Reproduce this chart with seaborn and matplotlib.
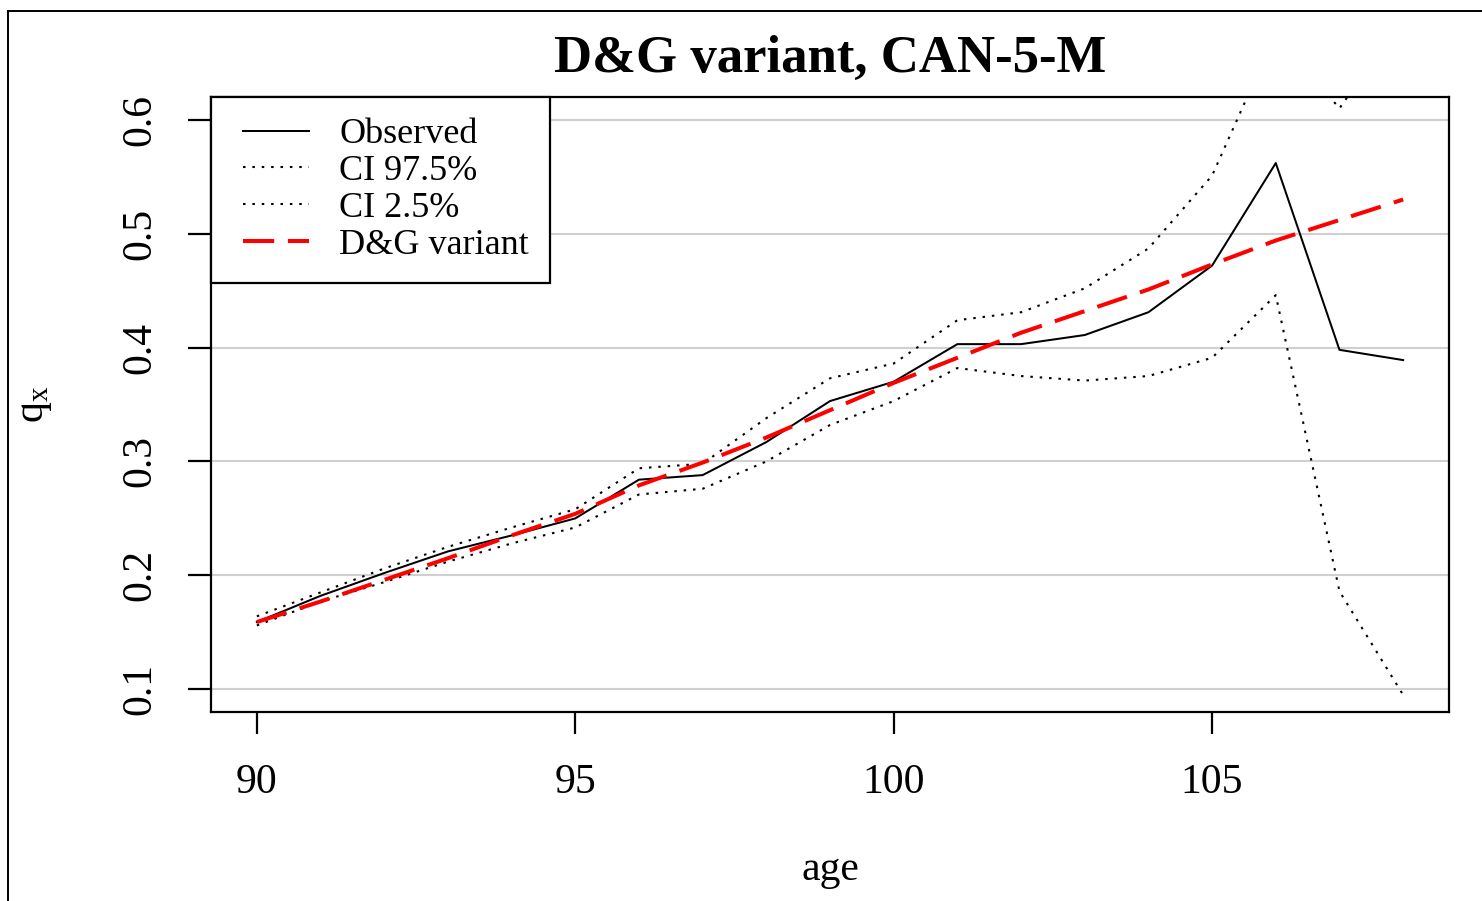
import numpy as np
import pandas as pd
import matplotlib
matplotlib.use("Agg")
import matplotlib.pyplot as plt
from matplotlib.lines import Line2D
from matplotlib.legend_handler import HandlerLine2D
import seaborn as sns

# ---------------- data ----------------
ages = [90, 91, 92, 93, 94, 95, 96, 97, 98, 99, 100, 101, 102, 103, 104, 105, 106, 107, 108]
observed = [0.159, 0.182, 0.202, 0.221, 0.235, 0.250, 0.284, 0.288, 0.317, 0.353, 0.370,
            0.403, 0.403, 0.411, 0.431, 0.472, 0.562, 0.398, 0.389]
ci_upper = [0.164, 0.185, 0.206, 0.225, 0.242, 0.258, 0.294, 0.298, 0.338, 0.373, 0.386,
            0.424, 0.431, 0.452, 0.487, 0.551, 0.676, 0.610, 0.690]
ci_lower = [0.156, 0.177, 0.194, 0.212, 0.228, 0.242, 0.271, 0.276, 0.300, 0.332, 0.353,
            0.382, 0.375, 0.371, 0.375, 0.391, 0.446, 0.186, 0.095]
dg_variant = [0.159, 0.177, 0.196, 0.215, 0.235, 0.254, 0.279, 0.299, 0.321, 0.345, 0.369,
              0.391, 0.413, 0.432, 0.451, 0.473, 0.494, 0.512, 0.530]
series_labels = ["Observed", "CI 97.5%", "CI 2.5%", "D&G variant"]
x_ticks = [90, 95, 100, 105]
y_ticks = [0.1, 0.2, 0.3, 0.4, 0.5, 0.6]
title = "D&G variant, CAN-5-M"

df = pd.DataFrame({"age": ages, "obs": observed, "up": ci_upper,
                   "lo": ci_lower, "dg": dg_variant})

# ---------------- style ----------------
plt.rcParams["font.family"] = ["Liberation Serif", "DejaVu Serif"]
plt.rcParams["mathtext.fontset"] = "stix"

W, H = 1482, 901
fig = plt.figure(figsize=(W / 100, H / 100), dpi=100)
L, R, T, B = 211, 1449, 97, 712
ax = fig.add_axes([L / W, (H - B) / H, (R - L) / W, (B - T) / H])

sns.lineplot(data=df, x="age", y="obs", ax=ax, color="black", lw=1.45,
             label=series_labels[0], errorbar=None)
sns.lineplot(data=df, x="age", y="up", ax=ax, color="black", lw=1.5,
             linestyle=(0, (1.2, 3.3)), label=series_labels[1], errorbar=None)
sns.lineplot(data=df, x="age", y="lo", ax=ax, color="black", lw=1.5,
             linestyle=(0, (1.2, 3.3)), label=series_labels[2], errorbar=None)
sns.lineplot(data=df, x="age", y="dg", ax=ax, color="#ff0000", lw=2.9,
             linestyle=(0, (7.75, 3.4)), label=series_labels[3], errorbar=None)

ax.set_xlim(89.28, 108.72)
ax.set_ylim(0.08, 0.62)
ax.set_xticks(x_ticks)
ax.set_xticklabels([str(v) for v in x_ticks])
ax.set_yticks(y_ticks)
ax.set_yticklabels([f"{v:.1f}" for v in y_ticks])

ax.set_axisbelow(True)
ax.yaxis.grid(True, color="#d0d0d0", lw=1.5)
ax.xaxis.grid(False)
for s in ax.spines.values():
    s.set_color("black")
    s.set_linewidth(1.6)
ax.set_facecolor("white")

ax.tick_params(axis="x", direction="out", length=16, width=1.6, labelsize=30,
               pad=21, colors="black")
ax.tick_params(axis="y", direction="out", length=16.5, width=1.6, labelsize=30,
               pad=21, colors="black")
for lab in ax.get_yticklabels():
    lab.set_rotation(90)
    lab.set_va("center")
    lab.set_ha("right")

ax.set_xlabel("age", fontsize=30)
ax.xaxis.set_label_coords(0.5, -(870 - B) / (B - T))
ax.xaxis.label.set_va("center")
ax.set_ylabel(r"$\mathregular{q_x}$", fontsize=30)
ax.yaxis.set_label_coords(-(211 - 35) / (R - L), (B - 404) / (B - T))
ax.yaxis.label.set_va("center")

fig.text(830 / W, 1 - 72 / H, title, ha="center", va="baseline",
         fontsize=38, fontweight="bold")

handles, labels = ax.get_legend_handles_labels()
leg = ax.legend(handles, labels, loc="upper left", bbox_to_anchor=(0, 1),
                borderaxespad=0, fontsize=26, frameon=True, fancybox=False,
                framealpha=1, edgecolor="black", borderpad=0.58,
                labelspacing=0.10, handlelength=2.45, handletextpad=0.52,
                numpoints=2,
                handler_map={Line2D: HandlerLine2D(marker_pad=0.31, numpoints=2)})
leg.get_frame().set_linewidth(1.6)

# outer frame lines of the figure
fig.add_artist(Line2D([8 / W, 8 / W], [0, 1 - 11 / H], transform=fig.transFigure,
                      color="black", lw=1.4))
fig.add_artist(Line2D([8 / W, 1], [1 - 11 / H, 1 - 11 / H], transform=fig.transFigure,
                      color="black", lw=1.4))

fig.savefig("out.png", dpi=100, facecolor="white")
